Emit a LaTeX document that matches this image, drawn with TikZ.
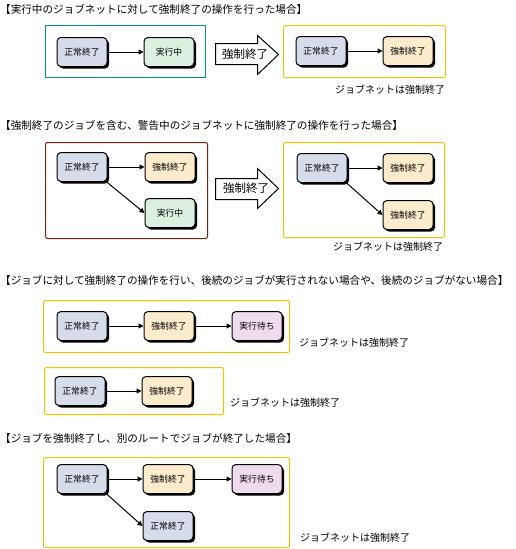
\documentclass[tikz,border=0pt]{standalone}
\usepackage{fontspec}
\setmainfont{Noto Sans CJK JP}
\usetikzlibrary{arrows.meta}
\definecolor{tealbox}{RGB}{0,150,120}
\definecolor{redbox}{RGB}{120,35,15}
\definecolor{yelbox}{RGB}{240,195,0}
\definecolor{fnormal}{RGB}{214,220,234}
\definecolor{frun}{RGB}{221,240,224}
\definecolor{fkill}{RGB}{253,235,205}
\definecolor{fwait}{RGB}{238,220,236}
\tikzset{
  job/.style={draw=black, line width=1pt, rounded corners=4pt, minimum width=50pt, minimum height=29pt,
    inner sep=0pt, font=\fontsize{8.8}{10}\selectfont,
    preaction={fill=black, transform canvas={xshift=2pt,yshift=-2pt}}},
  normal/.style={job, fill=fnormal},
  running/.style={job, fill=frun},
  killed/.style={job, fill=fkill},
  waiting/.style={job, fill=fwait},
  conn/.style={line width=1pt, -{Triangle[length=5pt,width=5pt]}},
  title/.style={anchor=west, inner sep=0pt, font=\fontsize{10.6}{12}\selectfont},
  note/.style={anchor=west, inner sep=0pt, font=\fontsize{10}{12}\selectfont},
  netbox/.style={line width=1pt},
  bigarrow/.style={draw=black, fill=white, line width=1pt},
  bigtext/.style={inner sep=0pt, font=\fontsize{11.5}{13}\selectfont}
}
\begin{document}
\begin{tikzpicture}[x=1pt,y=-1pt]
\useasboundingbox (0,0) rectangle (516,549);

% ---------- Section 1 ----------
\node[title] (t1) at (0,9) {【実行中のジョブネットに対して強制終了の操作を行った場合】};
\draw[netbox, draw=tealbox] (45.5,25.5) rectangle (205.5,77.5);
\node[normal] (a1) at (82,52) {正常終了};
\node[running] (b1) at (169,52) {実行中};
\draw[conn] (a1) -- (b1);
\draw[bigarrow] (215.5,43.5) -- (257.5,43.5) -- (257.5,35.5) -- (278.5,54.5) -- (257.5,74.5) -- (257.5,64.5) -- (215.5,64.5) -- cycle;
\node[bigtext] (k1) at (245,54) {強制終了};
\draw[netbox, draw=yelbox, rounded corners=1.5pt] (283.5,25.5) rectangle (445.5,77.5);
\node[normal] (c1) at (321,51) {正常終了};
\node[killed] (d1) at (408,51) {強制終了};
\draw[conn] (c1) -- (d1);
\node[note] (n1) at (335,90) {ジョブネットは強制終了};

% ---------- Section 2 ----------
\node[title] (t2) at (0,125) {【強制終了のジョブを含む、警告中のジョブネットに強制終了の操作を行った場合】};
\draw[netbox, draw=redbox, rounded corners=2pt] (45.5,142.5) rectangle (207.5,238.5);
\node[normal] (a2) at (82,167) {正常終了};
\node[killed] (b2) at (170,167) {強制終了};
\node[running] (e2) at (170,213) {実行中};
\draw[conn] (a2) -- (b2);
\draw[conn] ([xshift=-2pt,yshift=1pt]a2.south east) -- (e2.west);
\draw[bigarrow] (215.5,178.5) -- (257.5,178.5) -- (257.5,168.5) -- (278.5,188.5) -- (257.5,208.5) -- (257.5,199.5) -- (215.5,199.5) -- cycle;
\node[bigtext] (k2) at (246,188) {強制終了};
\draw[netbox, draw=yelbox, rounded corners=1.5pt] (283.5,142.5) rectangle (444.5,237.5);
\node[normal] (c2) at (322,168) {正常終了};
\node[killed] (d2) at (408,168) {強制終了};
\node[killed] (f2) at (408,215) {強制終了};
\draw[conn] (c2) -- (d2);
\draw[conn] ([xshift=-2pt,yshift=1pt]c2.south east) -- (f2.west);
\node[note] (n2) at (333,247) {ジョブネットは強制終了};

% ---------- Section 3 ----------
\node[title] (t3) at (0,280) {【ジョブに対して強制終了の操作を行い、後続のジョブが実行されない場合や、後続のジョブがない場合】};
\draw[netbox, draw=yelbox, rounded corners=2pt] (43.5,300.5) rectangle (289.5,352.5);
\node[normal] (a3) at (82,326) {正常終了};
\node[killed] (b3) at (169,326) {強制終了};
\node[waiting] (c3) at (257,326) {実行待ち};
\draw[conn] (a3) -- (b3);
\draw[conn] (b3) -- (c3);
\node[note] (n3) at (299,343) {ジョブネットは強制終了};

\draw[netbox, draw=yelbox, rounded corners=2pt] (44.5,367.5) rectangle (223.5,414.5);
\node[normal] (a4) at (80,391) {正常終了};
\node[killed] (b4) at (167,391) {強制終了};
\draw[conn] (a4) -- (b4);
\node[note] (n4) at (230,403) {ジョブネットは強制終了};

% ---------- Section 4 ----------
\node[title] (t5) at (0,438) {【ジョブを強制終了し、別のルートでジョブが終了した場合】};
\draw[netbox, draw=yelbox, rounded corners=2pt] (43.5,457.5) rectangle (289.5,547.5);
\node[normal] (a5) at (82,479) {正常終了};
\node[killed] (b5) at (168,479) {強制終了};
\node[waiting] (c5) at (257,479) {実行待ち};
\node[normal] (e5) at (168,526) {正常終了};
\draw[conn] (a5) -- (b5);
\draw[conn] (b5) -- (c5);
\draw[conn] ([xshift=-2pt,yshift=1pt]a5.south east) -- (e5.west);
\node[note] (n5) at (300,538) {ジョブネットは強制終了};
\end{tikzpicture}
\end{document}
